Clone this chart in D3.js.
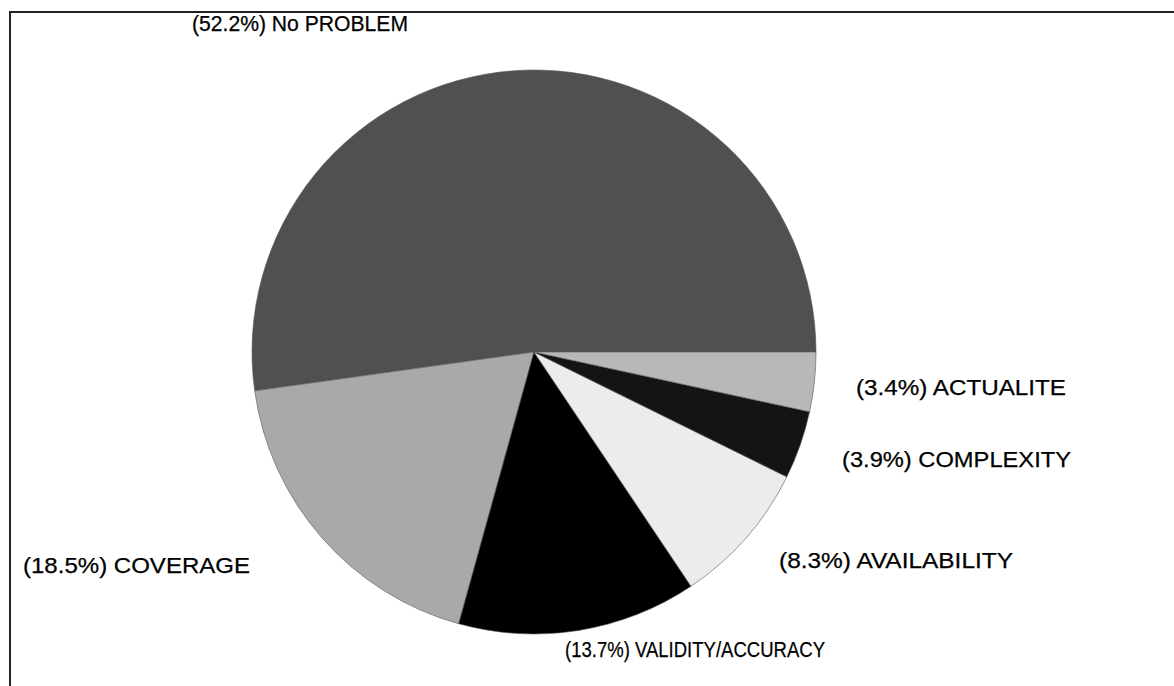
<!DOCTYPE html>
<html>
    <script src="https://d3js.org/d3.v7.min.js"></script>
    <style>
        body {margin: 0; background: #fff;}
        text {font-family: "Liberation Sans", Arial, sans-serif; font-size: 22px; fill: #000; stroke: #000; stroke-width: 0.25;}
    </style>
    <body>
        <div id="chart_div"></div>
        <script>
            // slices, in the order they are drawn (counterclockwise from 3 o'clock)
            var categories = ["No PROBLEM", "COVERAGE", "VALIDITY/ACCURACY", "AVAILABILITY", "COMPLEXITY", "ACTUALITE"];
            var percents = [52.2, 18.5, 13.7, 8.3, 3.9, 3.4];

            var colors = ["#505050", "#a9a9a9", "#000000", "#ececec", "#141414", "#b8b8b8"];
            // label layout: left x, baseline y, drawn width
            var label_pos = [[192, 31, 216], [23, 573, 227], [565, 657, 260], [779, 568, 234], [842, 467, 229], [856, 395, 210]];

            var width = 1174;
            var height = 686;
            var cx = 534, cy = 352, radius = 282;

            var svg = d3.select("#chart_div").append("svg")
                .attr("width", width)
                .attr("height", height);

            // frame (only the top and left edges show)
            svg.append("path")
                .attr("d", "M10,686 L10,12 L1174,12")
                .attr("fill", "none")
                .attr("stroke", "#222")
                .attr("stroke-width", 2);

            var data = categories.map(function(c, i){ return {name: c, value: percents[i]}; });

            var pie = d3.pie()
                .sort(null)
                .value(function(d){ return d.value; })
                .startAngle(Math.PI / 2)
                .endAngle(Math.PI / 2 - 2 * Math.PI);

            var arc = d3.arc().innerRadius(0).outerRadius(radius);

            var g = svg.append("g").attr("transform", "translate(" + cx + "," + cy + ")");

            g.selectAll("path")
                .data(pie(data))
                .enter().append("path")
                .attr("d", arc)
                .attr("fill", function(d, i){ return colors[i]; })
                .attr("stroke", "#555")
                .attr("stroke-width", 0.6);

            svg.selectAll("text.lbl")
                .data(data)
                .enter().append("text")
                .attr("class", "lbl")
                .attr("x", function(d, i){ return label_pos[i][0]; })
                .attr("y", function(d, i){ return label_pos[i][1]; })
                .attr("textLength", function(d, i){ return label_pos[i][2]; })
                .attr("lengthAdjust", "spacingAndGlyphs")
                .text(function(d){ return "(" + d.value.toFixed(1) + "%) " + d.name; });
        </script>
    </body>
</html>
